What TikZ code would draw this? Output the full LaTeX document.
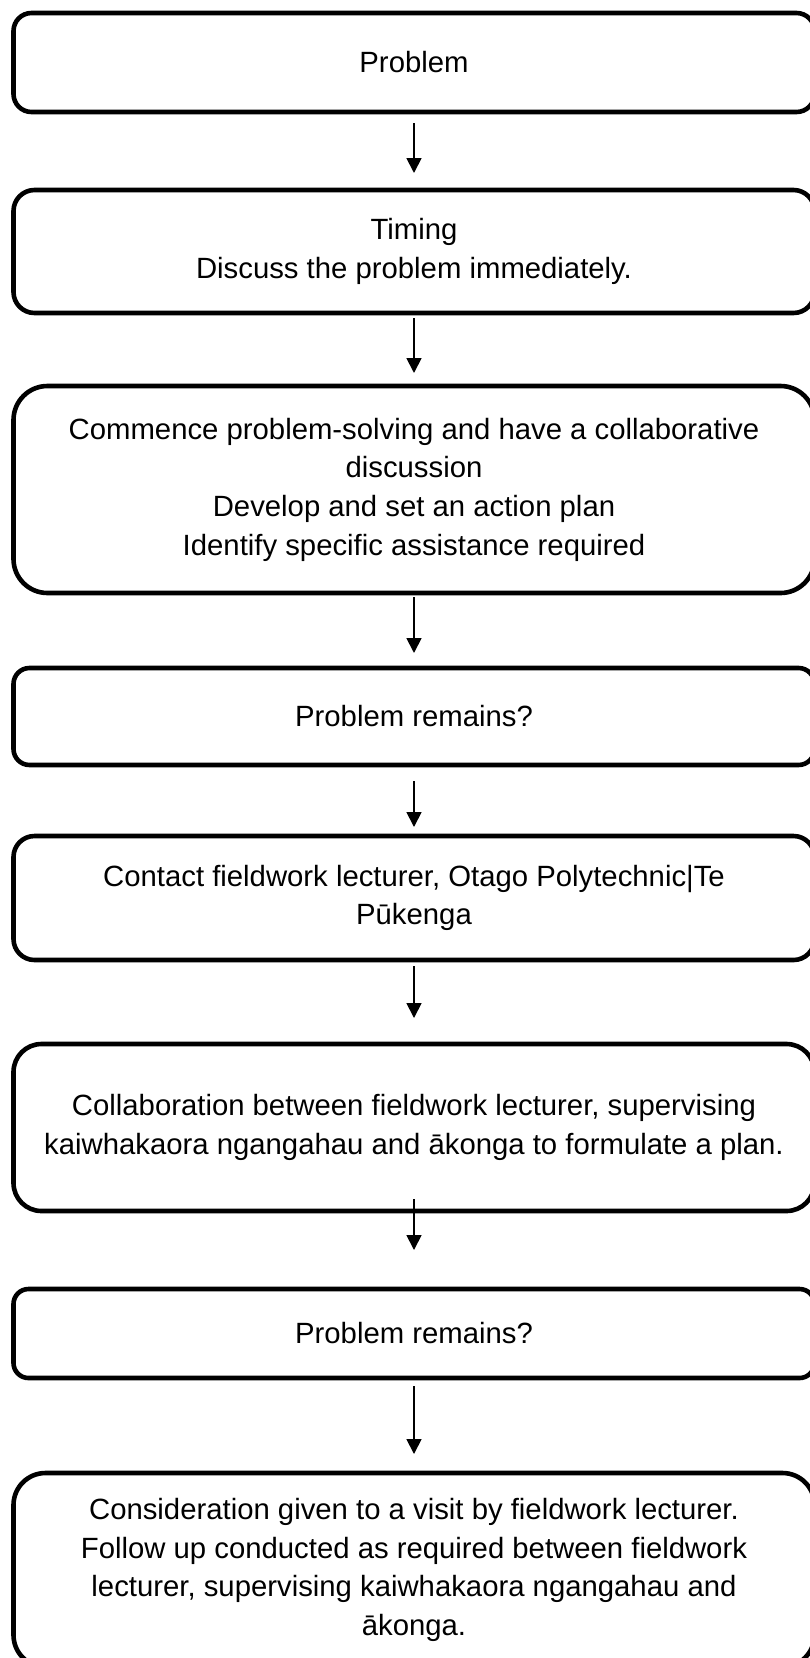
\documentclass[tikz,border=0pt]{standalone}
\usepackage{fontspec}
\setmainfont{Liberation Sans}
\usetikzlibrary{positioning,arrows.meta}

\begin{document}
\begin{tikzpicture}[x=1pt,y=1pt,
	box/.style = {draw, line width=4.6pt, outer sep=0pt, inner sep=0pt, rounded corners=#1,
		minimum width=801pt, align=center, font=\fontsize{29.3}{38.7}\selectfont},
	flow/.style = {line width=1.8pt, -{Triangle[length=15pt,width=15pt]}}]
	\useasboundingbox (0,0) rectangle (809,-1658);
	\node[box=18pt, minimum height=99pt] (problem) at (414,-62.5) {Problem};
	\node[box=21pt, minimum height=123pt] [below=78pt of problem] (timing) {Timing\\Discuss the problem immediately.};
	\node[box=34pt, minimum height=207pt] [below=73pt of timing] (commence) {Commence problem-solving and have a collaborative\\discussion\\Develop and set an action plan\\Identify specific assistance required};
	\node[box=16pt, minimum height=97pt] [below=75pt of commence] (remains1) {Problem remains?};
	\node[box=21pt, minimum height=124pt] [below=71pt of remains1] (contact) {Contact fieldwork lecturer, Otago Polytechnic|Te\\Pūkenga};
	\node[box=28pt, minimum height=167pt] [below=84pt of contact] (collab) {Collaboration between fieldwork lecturer, supervising\\kaiwhakaora ngangahau and ākonga to formulate a plan.};
	\node[box=15pt, minimum height=89pt] [below=78pt of collab] (remains2) {Problem remains?};
	\node[box=32pt, minimum height=194pt] [below=95pt of remains2] (visit) {Consideration given to a visit by fieldwork lecturer.\\Follow up conducted as required between fieldwork\\lecturer, supervising kaiwhakaora ngangahau and\\ākonga.};

	\draw[flow, shorten <=11pt, shorten >=17pt] (problem) -- (timing);
	\draw[flow, shorten <=5pt, shorten >=13pt] (timing) -- (commence);
	\draw[flow, shorten <=4pt, shorten >=15pt] (commence) -- (remains1);
	\draw[flow, shorten <=16pt, shorten >=9pt] (remains1) -- (contact);
	\draw[flow, shorten <=6pt, shorten >=26pt] (contact) -- (collab);
	\draw[flow, shorten <=-12pt, shorten >=39pt] (collab) -- (remains2);
	\draw[flow, shorten <=8pt, shorten >=19pt] (remains2) -- (visit);
\end{tikzpicture}
\end{document}
